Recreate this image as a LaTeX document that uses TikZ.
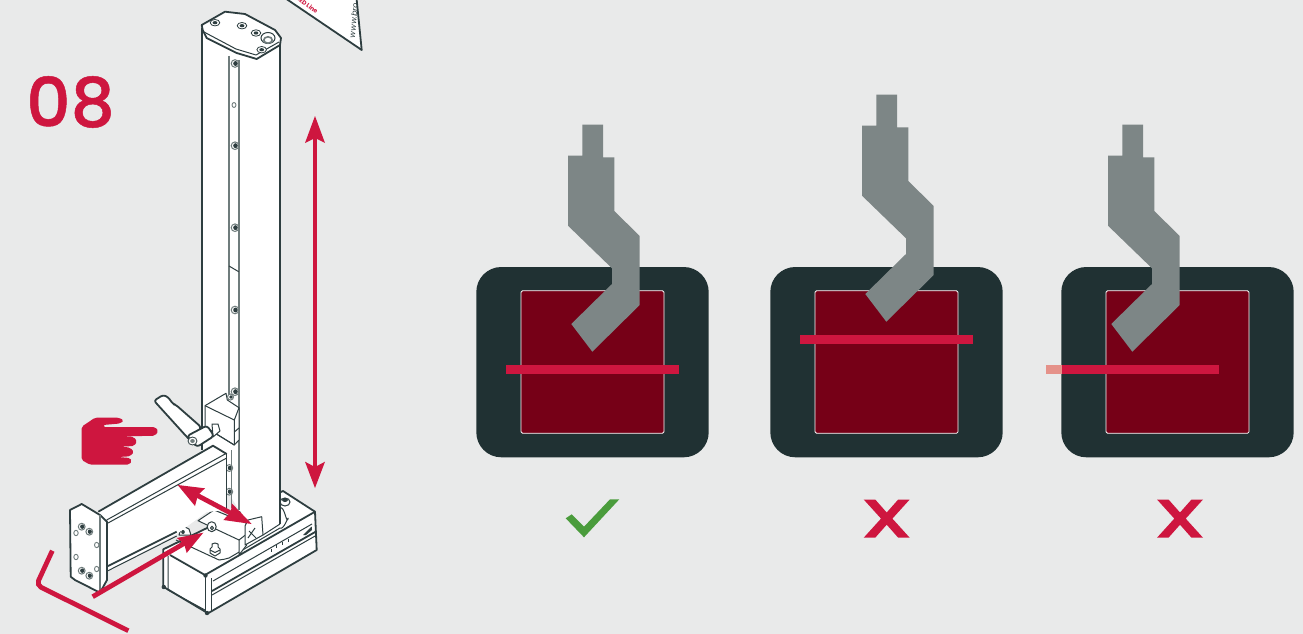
\documentclass[tikz,border=0pt]{standalone}
\usepackage{fontspec}
\setmainfont{Poppins}
\definecolor{bgc}{HTML}{E9EAEA}
\definecolor{crim}{HTML}{CE163F}
\definecolor{panelc}{HTML}{203133}
\definecolor{maroon}{HTML}{760017}
\definecolor{toolc}{HTML}{7D8686}
\definecolor{okc}{HTML}{4A9C3C}
\definecolor{inkc}{HTML}{2E3E40}
\definecolor{greyc}{HTML}{6F7C7C}
\definecolor{palec}{HTML}{E5928A}
\newfontfamily\stepfont[FakeBold=0.7]{Poppins Medium}
\tikzset{
  ink/.style={draw=inkc,line width=1.8pt,line join=round},
  thin ink/.style={draw=inkc,line width=1pt,line join=round},
  grey ink/.style={draw=greyc,line width=1.7pt},
  red bar/.style={draw=crim,line width=4.8pt},
}
\newcommand{\screwhole}[3]{%
  \fill[white,draw=greyc,line width=1pt] (#1,#2) ellipse (#3 and #3);
  \fill[inkc] (#1+0.5,#2) ellipse (#3*0.6 and #3*0.65);
}
\newcommand{\ringhole}[3]{\draw[greyc,line width=0.9pt,fill=white] (#1,#2) ellipse (#3 and #3*1.2);}
\newcommand{\xmark}[1]{%
  \begin{scope}[shift={(#1,0)}]
    \fill[crim] (-23,499.5)--(-11.5,499.5)--(0,512.5)--(11.5,499.5)--(23,499.5)--(5.7,518.6)--(23,537.7)--(11.5,537.7)--(0,524.7)--(-11.5,537.7)--(-23,537.7)--(-5.7,518.6)--cycle;
  \end{scope}}
\newcommand{\panel}[3]{% panel x-shift, tool x-shift, tool y-shift
  \begin{scope}[shift={(#1,0)}]
    \fill[panelc,rounded corners=25pt] (476.3,267) rectangle (708.7,457.3);
    \fill[maroon,draw=white,line width=0.8pt,rounded corners=1.5pt] (521,290.7) rectangle (664,433.3);
  \end{scope}
  \fill[toolc] ([shift={(#2,#3)}]582.3,124.7)--++(20.7,0)--++(0,32.6)--++(11.3,0)--++(0,53.7)--++(25.4,25)--++(0,69)--++(-47.4,46.7)--++(-21,-27.7)--++(40.7,-40)--++(0,-15.7)--++(-44,-42.6)--++(0,-70)--++(14.3,0)--cycle;
}
\begin{document}
\begin{tikzpicture}[x=1pt,y=-1pt]
\clip (0,0) rectangle (1303,634);
\fill[bgc] (0,0) rectangle (1303,634);

% step number
\node[anchor=center,text=crim,inner sep=0pt,font=\fontsize{68}{68}\selectfont\stepfont,xscale=1.02] (stepnum) at (70.5,102) {08};

% instruction sheet
\path[fill=white,ink] (285,-2)--(361.7,50)--(356.5,-2);
\node[text=crim,rotate=-36,font=\fontsize{6}{6}\selectfont\bfseries,inner sep=0pt,anchor=east] (ledline) at (317.5,12) {LED Line};
\node[text=inkc,rotate=85,font=\fontsize{8}{8}\selectfont\itshape,inner sep=0pt,anchor=west] (www) at (352,38) {www.bro};

% base box
\path[fill=white,ink] (163.3,549.3)--(283,491)--(315,511.7)--(316.7,550)--(208,613.3)--(163.3,586.7)--cycle;
\draw[ink] (170,555)--(205,575)--(315,511.7);
\draw[thin ink] (168,556)--(168,590)--(205,610);
\draw[thin ink] (205,575)--(205,611) (211.7,578)--(211.7,611);
\draw[thin ink] (213,581)--(312,524);
\draw[ink] (212,591)--(316,531.5);
\draw[thin ink] (212,595)--(316,535.5);
\fill[inkc] (205.5,575.5) circle (2.2) (163.8,587) circle (2.2) (207,613) circle (2.2);
\fill[inkc] (303,535)--(311.7,526.5)--(312,530)--(306,535)--cycle;
\foreach \px/\py in {271.7/551.7,276.7/548.3,282.7/545,288.3/541.7}{\draw[inkc,line width=1.5pt] (\px,\py-3)--(\px,\py);}
\fill[white,draw=inkc,line width=1pt] (285,502) ellipse (5 and 4);
\fill[inkc] (285,500) ellipse (3 and 2);
% mounting plate
\draw[thin ink] (176,540)--(219,560) to[out=20,in=210] (229,558)--(280,528) to[out=-30,in=80] (288,519) to[out=-110,in=30] (280,508);

% column
\fill[white] (202,30) -- (226,12) -- (247,15) -- (280,38) -- (280,524) -- (263,535) -- (239,510) -- (202,450) -- cycle;
\draw[inkc,line width=2.2pt] (202,28)--(202,450);
\draw[inkc,line width=2.2pt] (280,42)--(280,524);
\draw[grey ink] (229,56)--(229,400) (238.7,60)--(238.7,510);
\draw[thin ink] (229,266)--(238.7,271.7);
\draw[thin ink] (280,524)--(263,535);
% column cap
\path[fill=white,ink] (201.7,25)--(225,11.7)--(245,14)--(275,30)--(281,38)--(280,45)--(256.7,59)--(236.7,53)--(206.7,38)--(202.7,30)--cycle;
\draw[thin ink] (204,32)--(236,49)--(256,55)--(279,42);
\foreach \hx/\hy in {215/22.7,242/25.7,256/33,261.7/49.7}{\draw[inkc,line width=0.8pt,fill=white] (\hx,\hy) ellipse (4.8 and 3.2); \fill[inkc] (\hx,\hy) ellipse (2.4 and 1.6);}
\draw[inkc,line width=1pt,fill=white] (268,38) ellipse (7 and 5.5);
\draw[greyc,line width=1.6pt] (268,40) ellipse (4.2 and 3.2);
% column holes
\screwhole{235}{63.5}{3.8}
\ringhole{234}{105}{2}
\foreach \hy in {145.7,227.7,310,391.7}{\screwhole{235}{\hy}{3.8}}
\screwhole{229.3}{468}{3.4}
\screwhole{229.3}{491.7}{3.4}
\draw[grey ink] (231.5,450)--(231.5,508);

% clamp
\path[fill=white,thin ink] (205,405.7)--(226,393.3)--(227.3,400)--(239,407.7)--(239,440)--(234.3,445)--(205,427)--cycle;
\draw[thin ink] (205,405.7)--(234.3,420)--(239,407.7) (234.3,420)--(234.3,445);
\draw[thin ink] (234.3,432)--(239,428);
\screwhole{230.5}{397}{3}
% rod
\draw[thin ink] (205,427)--(234.3,445);
% handle
\path[fill=white,ink,rounded corners=2.5pt] (154,400.7)--(163,395)--(168,397)--(173,404)--(176,405)--(201,427)--(193,443)--(186,436)--cycle;
% collar
\path[fill=white,thin ink] (212,424)--(218,424)--(220,431)--(213,437)--cycle;
\path[fill=white,ink,rounded corners=3pt] (187,436)--(207,425.5)--(214,436)--(197,447)--cycle;
\draw[inkc,line width=0.8pt,fill=white] (192.5,441) ellipse (4.5 and 4);
\fill[greyc] (192.5,441) ellipse (2.3 and 2);

% block on base
\path[fill=white,thin ink] (198,520.7)--(214,510)--(246.7,523.3)--(246.7,545)--(239,555)--(239,540)--cycle;
\draw[thin ink] (239,540)--(246.7,534);
\draw[thin ink,fill=white] (211.7,526.7) ellipse (4.5 and 5);
\draw[thin ink,fill=white] (212,528) ellipse (1.5 and 1.8);
% nut
\path[fill=white,thin ink] (212,544)--(215,543)--(218,544)--(218,547)--(220,549)--(220,553)--(215,556)--(210,553)--(210,549)--(212,547)--cycle;
\draw[thin ink] (210,550)--(215,552.5)--(220,550);
% far bolt
\path[fill=white,thin ink] (179,535)--(181,529)--(185,527)--(189,529)--(191,535)--cycle;
\fill[inkc] (183,532) ellipse (1.8 and 2);
% bracket
\path[fill=white,thin ink] (248,520)--(261.7,516.7)--(263,535)--(245,545)--(245,526)--cycle;
\draw[thin ink] (249,531)--(256,538) (255,528)--(248,538);

% arm
\fill[white] (98.3,511.7)--(213,445.7)--(226.7,454)--(226.7,510)--(206.7,512)--(176.7,534)--(108,570.7)--cycle;
\draw[ink] (98.3,511.7)--(213,445.7)--(226.7,454);
\draw[thin ink] (106.7,520)--(226,453.5);
\draw[thin ink] (108,523)--(226.7,458);
\draw[thin ink] (226.7,454)--(226.7,510);
\draw[ink] (108,566)--(176.7,531.7);
\draw[thin ink] (108,570.7)--(176.7,536);
% end plate
\path[fill=white,ink] (70,510)--(81.7,504)--(100,515)--(107,521.7)--(107,580)--(100,592.7)--(75,580)--(70.7,576.7)--cycle;
\draw[greyc,line width=1.2pt] (100,515)--(100,592.7);
\foreach \bx/\by in {81.7/526.7,89.3/531.7,81.7/570.7,89.3/575.7}{\screwhole{\bx}{\by}{3.4}}
\foreach \bx/\by in {76/533,96.7/545,76/557,96.7/569}{\ringhole{\bx}{\by}{2.2}}

% red arrows
\draw[red bar] (315,135)--(315,470);
\fill[crim] (315,116)--(325,143)--(315,138)--(305,143)--cycle;
\fill[crim] (315,488)--(325,461.7)--(315,467)--(305,461.7)--cycle;
\draw[red bar] (190,491.5)--(240,518);
\fill[crim] (177.7,485)--(205,488.3)--(198,495)--(195,506)--cycle;
\fill[crim] (251.7,524)--(231.7,503.3)--(231,512)--(223.3,520)--cycle;
\draw[red bar] (92.7,596.7)--(190,540);
\fill[crim] (203.3,532.7)--(176.7,538)--(184,543.5)--(186.7,553)--cycle;
\draw[red bar,rounded corners=5pt] (52.3,550.7)--(36.5,585)--(128.3,630.7);
% hand
\fill[crim,rounded corners=1.8pt] (81.7,426.7)--(95,417.7)--(119,417.7)--(124,420.5)--(120,423.5)--(103,425)--(103,427)--(155,427)--(158.5,431)--(155,435.7)--(120,436.5)--(134,437)--(137,441.5)--(134,446)--(120,446.7)--(130,447.5)--(134,452)--(130,456.3)--(118,457)--(130,458)--(132,461)--(129,464.7)--(90,464.7)--(81.7,460)--cycle;

% panels
\panel{0}{0}{0}
\panel{294}{294}{-30}
\panel{585}{540}{0}
% level lines
\fill[crim] (506,365) rectangle (679.3,374);
\fill[crim] (800,335) rectangle (973,344);
\fill[palec] (1046,365) rectangle (1061.5,374);
\fill[crim] (1061.5,365) rectangle (1219,374);

% verdict marks
\fill[okc] (565.7,518.3)--(571.7,514.3)--(584,526.7)--(610,499.3)--(619.3,499.3)--(584,537.3)--cycle;
\xmark{886.7}
\xmark{1180}
\end{tikzpicture}
\end{document}
